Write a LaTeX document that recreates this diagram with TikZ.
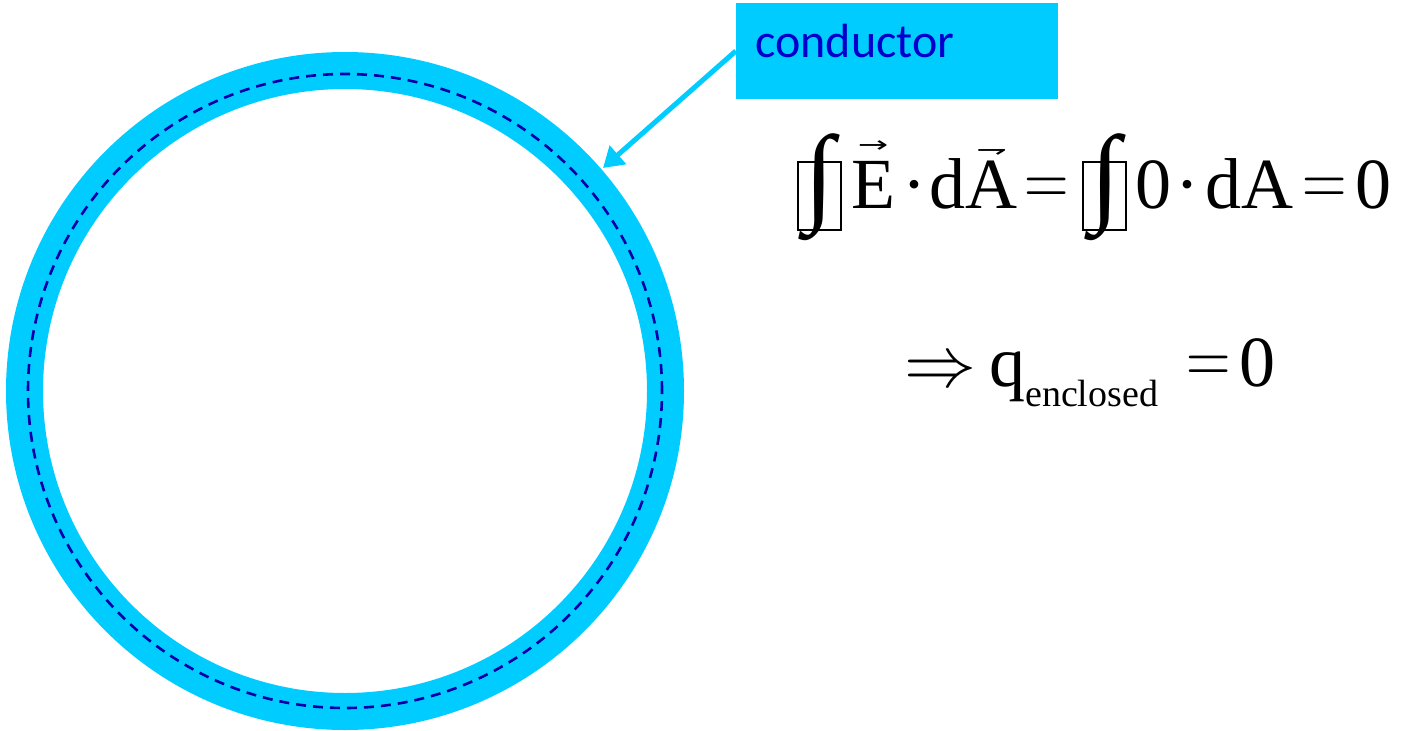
\documentclass[tikz,border=0pt]{standalone}
\usepackage[no-math]{fontspec}
\usepackage{graphicx}
\setmainfont{Liberation Serif}
\newfontfamily\calibfont{Carlito}
\newfontfamily\arrowfont{DejaVu Sans}
\usetikzlibrary{arrows.meta}
\definecolor{condcyan}{RGB}{0,204,255}
\definecolor{labelblue}{RGB}{0,0,204}
\definecolor{dashblue}{RGB}{0,0,170}
\newcommand\overarr[3]{\ooalign{#1\cr\hidewidth\raisebox{#2}{\scalebox{1.3}[0.8]{\arrowfont\fontsize{28}{28}\selectfont #3}}\hidewidth\cr}}
\newcommand\tallint{\resizebox*{30pt}{107pt}{∫}}
\newcommand\eqs{\raisebox{3pt}{\scalebox{1}[1.25]{\resizebox{44.3pt}{!}{$=$}}}}
\begin{document}
\begin{tikzpicture}[x=1pt,y=-1pt,
  shell/.style={circle, draw=condcyan, line width=37pt, inner sep=0pt},
  surface/.style={circle, draw=dashblue, line width=2.6pt, dash pattern=on 10pt off 7pt, inner sep=0pt},
  glyphbox/.style={draw, line width=1.3pt, minimum width=43pt, minimum height=68pt, inner sep=0pt},
  intsign/.style={inner sep=0pt},
  eqtext/.style={anchor=base west, inner sep=0pt, font=\fontsize{72}{72}\selectfont},
  labelbox/.style={fill=condcyan, text=labelblue, font=\calibfont\fontsize{48}{48}\selectfont,
    inner xsep=19.5pt, inner ysep=0pt, text width=283pt, align=left, minimum height=96pt,
    text height=31pt, text depth=19pt},
  pointer/.style={draw=condcyan, line width=5pt, -{Triangle[length=20pt,width=24pt]}}
]
\useasboundingbox (0,0) rectangle (1401,731);
% conductor shell and Gaussian surface
\node[shell, minimum size=641pt] (shellring) at (345,391) {};
\node[surface, minimum size=634pt] (gauss) at (345,391) {};
% label
\node[labelbox] (cbox) at (897,51) {conductor};
\coordinate (tip) at (603,168);
\draw[pointer] (cbox.west) -- (tip);
% first equation line
\node[glyphbox] (box1) at (819.5,196) {};
\node[intsign] (int1) at (819.5,187.5) {\tallint};
\node[eqtext] (lhs) at (851,208) {\overarr{E}{56pt}{→}\hspace{7pt}·\hspace{3.5pt}d\overarr{A}{51pt}{⇁}\hspace{7pt}\eqs};
\node[glyphbox] (box2) at (1104.5,196) {};
\node[intsign] (int2) at (1105.5,187.5) {\tallint};
\node[eqtext] (rhs) at (1135,208) {0\hspace{4.8pt}·\hspace{6pt}dA\hspace{9pt}\eqs\hspace{8.7pt}0};
% second line
\node[eqtext] (concl) at (904,386) {\resizebox{72pt}{!}{$\Rightarrow$}\hspace{13pt}q\raisebox{-20pt}{\fontsize{38}{38}\selectfont enclosed}\hspace{28pt}\eqs\hspace{9pt}0};
\end{tikzpicture}
\end{document}
